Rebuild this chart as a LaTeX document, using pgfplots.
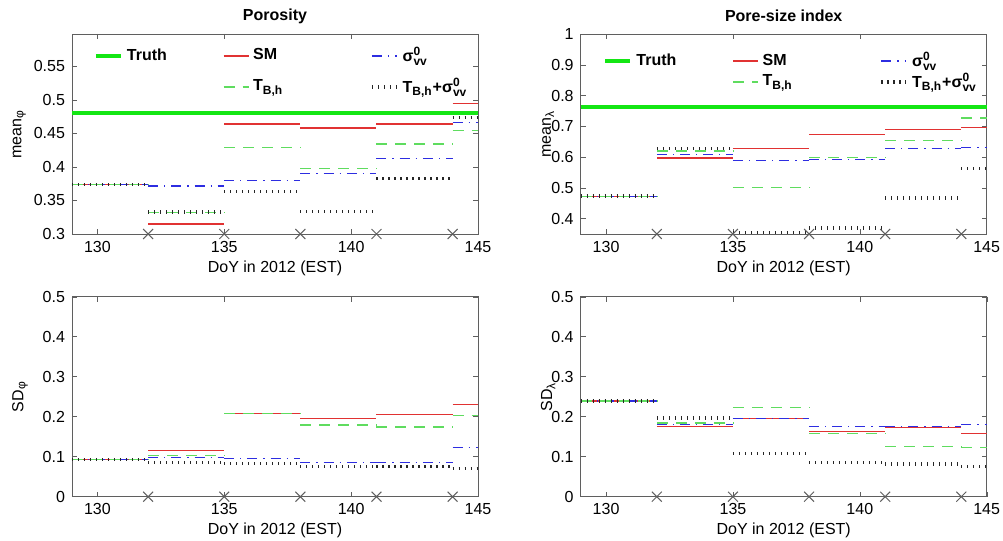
\documentclass[border=0pt]{standalone}
\usepackage{fontspec}
\setmainfont{Liberation Sans}
\usepackage{amsmath}
\usepackage{pgfplots}
\pgfplotsset{compat=1.18}

\definecolor{truthgreen}{RGB}{20,230,20}
\definecolor{smred}{RGB}{225,50,50}
\definecolor{tbgreen}{RGB}{95,220,95}
\definecolor{sigblue}{RGB}{45,45,225}
\definecolor{framegray}{RGB}{95,95,95}

\pgfplotsset{
  every axis title shift=0pt,
  panel/.style={
    scale only axis, width=203pt, height=100pt,
    xmin=129, xmax=145, xtick={130,135,140,145},
    clip=false,
    font=\fontsize{8}{9.6}\selectfont,
    axis line style={framegray},
    tick style={framegray},
    major tick length=2.5pt,
    tick label style={font=\fontsize{8}{9.6}\selectfont},
    /pgf/number format/.cd, fixed, precision=2, assume math mode=true, /pgfplots/.cd,
    xlabel={DoY in 2012 (EST)},
    xlabel style={at={(axis description cs:0.5,-0.17)}, anchor=center},
    title style={at={(axis description cs:0.5,1.09)}, anchor=center, font=\fontsize{8}{9.6}\selectfont\bfseries},
    legend columns=3,
    legend cell align=left,
    legend style={draw=none, fill=none, inner sep=0pt,
      font=\fontsize{8}{9.6}\selectfont\bfseries,
      /tikz/column 2/.append style={column sep=26pt},
      /tikz/column 4/.append style={column sep=41.5pt}},
    legend image code/.code={\draw[##1] (0pt,0pt) -- (12.5pt,0pt);},
  },
  truth/.style={truthgreen, line width=2pt},
  sm/.style={smred, line width=0.6pt, jump mark left},
  tb/.style={tbgreen, line width=0.6pt, dash pattern=on 5.5pt off 4pt, jump mark left},
  sig/.style={sigblue, line width=0.6pt, dash pattern=on 5pt off 3pt on 0.6pt off 3pt, jump mark left},
  both/.style={black!85, line width=1.7pt, dash pattern=on 0.55pt off 2.45pt, jump mark left},
  crosses/.style={only marks, mark=x, mark size=3.5pt, framegray, mark options={line width=0.5pt}, forget plot},
}

\begin{document}
\begin{tikzpicture}
\useasboundingbox (0,0) rectangle (501.5pt,270.5pt);

% ---------------- mean porosity ----------------
\begin{axis}[panel, at={(36pt,153.5pt)}, anchor=south west,
  title={Porosity},
  ymin=0.3, ymax=0.598, ytick={0.3,0.35,0.4,0.45,0.5,0.55},
  ylabel={mean\textsubscript{φ}},
  ylabel style={at={(axis description cs:-0.13,0.5)}, anchor=center},
  legend style={at={(axis description cs:0.053,0.955)}, anchor=north west, /tikz/row sep=3pt},
]
\addplot[truth] coordinates {(129,0.481) (145,0.481)};
\addlegendentry{Truth}
\addplot[sm] coordinates {(129,0.374) (132,0.315) (135,0.464) (138,0.458) (141,0.464) (144,0.495) (145,0.495)};
\addlegendentry{SM}
\addplot[sig] coordinates {(129,0.374) (132,0.3715) (135,0.380) (138,0.390) (141,0.413) (144,0.4665) (145,0.4665)};
\addlegendentry{σ$^{\textbf{0}}_{\textbf{vv}}$}
\addlegendimage{empty legend}
\addlegendentry{}
\addplot[tb] coordinates {(129,0.374) (132,0.3325) (135,0.429) (138,0.398) (141,0.434) (144,0.454) (145,0.454)};
\addlegendentry{T$_{\textbf{B,h}}$}
\addplot[both] coordinates {(129,0.374) (132,0.3325) (135,0.3635) (138,0.3335) (141,0.383) (144,0.474) (145,0.474)};
\addlegendentry{T$_{\textbf{B,h}}$+σ$^{\textbf{0}}_{\textbf{vv}}$}
\addplot[crosses] coordinates {(132,0.3) (135,0.3) (138,0.3) (141,0.3) (144,0.3)};
\end{axis}

% ---------------- mean pore-size index ----------------
\begin{axis}[panel, at={(290.35pt,153.5pt)}, anchor=south west,
  title={Pore-size index},
  ymin=0.35, ymax=1, ytick={0.4,0.5,0.6,0.7,0.8,0.9,1},
  ylabel={mean\textsubscript{λ}},
  ylabel style={at={(axis description cs:-0.08,0.5)}, anchor=center},
  legend style={at={(axis description cs:0.055,0.93)}, anchor=north west, /tikz/row sep=-2pt},
]
\addplot[truth] coordinates {(129,0.763) (145,0.763)};
\addlegendentry{Truth}
\addplot[sm] coordinates {(129,0.473) (132,0.597) (135,0.628) (138,0.673) (141,0.690) (144,0.696) (145,0.696)};
\addlegendentry{SM}
\addplot[sig] coordinates {(129,0.473) (132,0.608) (135,0.590) (138,0.593) (141,0.627) (144,0.632) (145,0.632)};
\addlegendentry{σ$^{\textbf{0}}_{\textbf{vv}}$}
\addlegendimage{empty legend}
\addlegendentry{}
\addplot[tb] coordinates {(129,0.473) (132,0.620) (135,0.502) (138,0.598) (141,0.654) (144,0.727) (145,0.727)};
\addlegendentry{T$_{\textbf{B,h}}$}
\addplot[both] coordinates {(129,0.473) (132,0.627) (135,0.354) (138,0.370) (141,0.467) (144,0.562) (145,0.562)};
\addlegendentry{T$_{\textbf{B,h}}$+σ$^{\textbf{0}}_{\textbf{vv}}$}
\addplot[crosses] coordinates {(132,0.35) (135,0.35) (138,0.35) (141,0.35) (144,0.35)};
\end{axis}

% ---------------- SD porosity ----------------
\begin{axis}[panel, at={(36pt,22.15pt)}, anchor=south west,
  ymin=0, ymax=0.5, ytick={0,0.1,0.2,0.3,0.4,0.5},
  ylabel={SD\textsubscript{φ}},
  ylabel style={at={(axis description cs:-0.128,0.5)}, anchor=center},
]
\addplot[sm] coordinates {(129,0.093) (132,0.116) (135,0.208) (138,0.196) (141,0.206) (144,0.231) (145,0.231)};
\addplot[sig] coordinates {(129,0.093) (132,0.098) (135,0.095) (138,0.085) (141,0.086) (144,0.123) (145,0.123)};
\addplot[tb] coordinates {(129,0.093) (132,0.102) (135,0.207) (138,0.179) (141,0.174) (144,0.203) (145,0.203)};
\addplot[both] coordinates {(129,0.093) (132,0.085) (135,0.083) (138,0.075) (141,0.075) (144,0.070) (145,0.070)};
\addplot[crosses] coordinates {(132,0) (135,0) (138,0) (141,0) (144,0)};
\end{axis}

% ---------------- SD pore-size index ----------------
\begin{axis}[panel, at={(290.35pt,22.15pt)}, anchor=south west,
  ymin=0, ymax=0.5, ytick={0,0.1,0.2,0.3,0.4,0.5},
  ylabel={SD\textsubscript{λ}},
  ylabel style={at={(axis description cs:-0.08,0.5)}, anchor=center},
]
\addplot[sm] coordinates {(129,0.239) (132,0.176) (135,0.195) (138,0.163) (141,0.1725) (144,0.157) (145,0.157)};
\addplot[sig] coordinates {(129,0.239) (132,0.181) (135,0.195) (138,0.175) (141,0.176) (144,0.181) (145,0.181)};
\addplot[tb] coordinates {(129,0.239) (132,0.184) (135,0.222) (138,0.158) (141,0.126) (144,0.122) (145,0.122)};
\addplot[both] coordinates {(129,0.239) (132,0.197) (135,0.108) (138,0.085) (141,0.082) (144,0.075) (145,0.075)};
\addplot[crosses] coordinates {(132,0) (135,0) (138,0) (141,0) (144,0)};
\end{axis}
\end{tikzpicture}
\end{document}
